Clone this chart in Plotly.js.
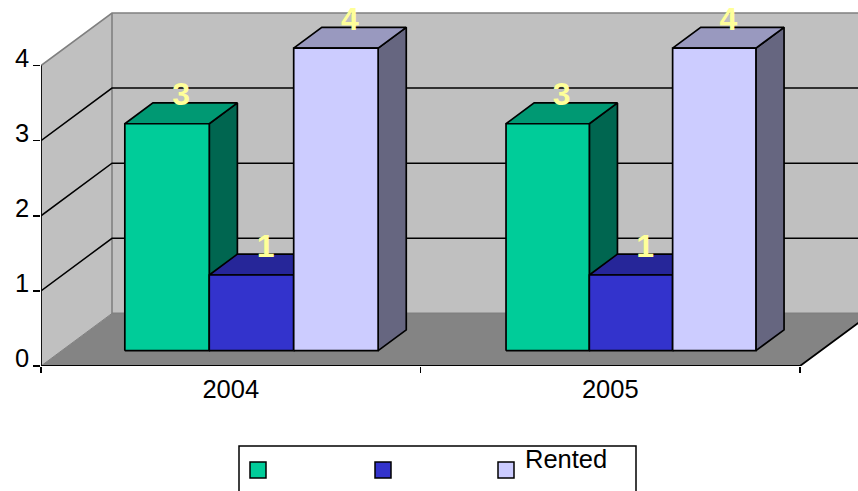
<!DOCTYPE html>
<html><head><meta charset="utf-8">
<script src="https://cdn.plot.ly/plotly-3.0.1.min.js"></script>
<style>html,body{margin:0;padding:0;background:#fff;overflow:hidden}#c{width:858px;height:491px}</style>
</head><body><div id="c"></div>
<script>
const categories = ['2004', '2005'];
const seriesGreen = [3, 3];
const seriesBlue = [1, 1];
const seriesRented = [4, 4];
const legendNames = ['', '', 'Rented'];
const valueTicks = [0, 1, 2, 3, 4];

const W = 858, H = 491, ML = 41, MB = 125;
const unitX = 379.5, unitY = 75.1;
const DX = 71 / unitX, DY = 52.6 / unitY;
const dFront = 0.292, dBack = 0.688, barWidths = [0.2225, 0.2195], barScale = 1.007;
const FONT = 'Liberation Sans, Arial, sans-serif';
const palette = [
  {front:'#00CC99', top:'#009973', side:'#006650'},
  {front:'#3333CC', top:'#262699', side:'#1F1F80'},
  {front:'#CCCCFF', top:'#9999BF', side:'#666680'}
];
const series = [seriesGreen, seriesBlue, seriesRented];

const P = (x, y, d) => [x + d * DX, y + d * DY];
function poly(pts, fill, lineColor, lineW) {
  const xs = pts.map(p => p[0]), ys = pts.map(p => p[1]);
  xs.push(xs[0]); ys.push(ys[0]);
  return {x: xs, y: ys, type: 'scatter', mode: 'lines', fill: 'toself', fillcolor: fill,
    line: {color: lineColor || 'rgba(0,0,0,0)', width: lineW === undefined ? 0 : lineW},
    hoverinfo: 'skip', showlegend: false, cliponaxis: false};
}
function line(pts, color, w) {
  return {x: pts.map(p => p[0]), y: pts.map(p => p[1]), type: 'scatter', mode: 'lines',
    line: {color: color, width: w}, hoverinfo: 'skip', showlegend: false, cliponaxis: false};
}

const traces = [];
const nCat = categories.length, topV = valueTicks[valueTicks.length - 1];
// walls and floor
traces.push(poly([P(0,0,0),P(0,topV,0),P(0,topV,1),P(0,0,1)], '#C0C0C0'));
traces.push(poly([P(0,0,1),P(0,topV,1),P(nCat,topV,1),P(nCat,0,1)], '#C0C0C0'));
traces.push(poly([P(0,0,0),P(nCat,0,0),P(nCat,0,1),P(0,0,1)], '#848484'));
// wall edges
traces.push(line([P(0,topV,0),P(0,topV,1),P(nCat,topV,1)], '#808080', 1.6));
traces.push(line([P(0,topV,1),P(0,0,1),P(nCat,0,1)], '#808080', 1.6));
traces.push(line([P(0,0,0),P(0,0,1)], '#808080', 1));
// gridlines
valueTicks.slice(1, -1).forEach(v => {
  traces.push(line([P(0,v,0),P(0,v,1),P(nCat,v,1)], '#000', 1.5));
});
// axis lines
traces.push(line([P(0,0,0),P(0,topV,0)], '#000', 1.8));
traces.push(line([P(nCat,0,1),P(nCat,0,0),P(0,0,0)], '#000', 1.8));
// bars
const labX = [], labY = [], labT = [];
categories.forEach((c, i) => {
  const barW = barWidths[i];
  series.forEach((s, k) => {
    const v = s[i] * barScale, x0 = i + 0.5 - 1.5 * barW + k * barW, x1 = x0 + barW, col = palette[k];
    traces.push(poly([P(x1,0,dFront),P(x1,0,dBack),P(x1,v,dBack),P(x1,v,dFront)], col.side, '#000', 1.7));
    traces.push(poly([P(x0,v,dFront),P(x1,v,dFront),P(x1,v,dBack),P(x0,v,dBack)], col.top, '#000', 1.7));
    traces.push(poly([P(x0,0,dFront),P(x1,0,dFront),P(x1,v,dFront),P(x0,v,dFront)], col.front, '#000', 1.7));
    const q = P((x0 + x1) / 2, v, dBack);
    labX.push((x0 + x1) / 2 + (dFront + dBack) / 2 * DX); labY.push(q[1] + 0.075); labT.push(String(s[i]));
  });
});
traces.push({x: labX, y: labY, text: labT, type: 'scatter', mode: 'text', textposition: 'middle center',
  textfont: {family: FONT, size: 32, color: '#FFFF99', weight: 700}, hoverinfo: 'skip', showlegend: false, cliponaxis: false});

// legend in page pixels
const px = x => (x - ML) / (W - ML);
const py = y => (H - MB - y) / (H - MB);
const shapes = [{type:'rect', xref:'paper', yref:'paper', x0:px(239), x1:px(636), y0:py(446), y1:py(500),
  line:{color:'#000', width:1.5}, fillcolor:'#fff', layer:'above'}];
[250, 375, 498].forEach((x, k) => shapes.push({type:'rect', xref:'paper', yref:'paper',
  x0:px(x), x1:px(x + 16), y0:py(462), y1:py(478), fillcolor:palette[k].front, line:{color:'#000', width:1.5}, layer:'above'}));
const annotations = [{xref:'paper', yref:'paper', x:px(523.5), y:py(468), xanchor:'left', yanchor:'bottom', yshift:-6,
  text:legendNames[2], showarrow:false, font:{family:FONT, size:25.5, color:'#000'}, borderpad:0}];
// value labels sit above their ticks, as in the reference
valueTicks.forEach(v => annotations.push({xref:'paper', yref:'y', x:px(30), y:v, yshift:8, xanchor:'right', yanchor:'middle',
  text:String(v), showarrow:false, font:{family:FONT, size:25.5, color:'#000'}, borderpad:0}));

const layout = {
  width: W, height: H, margin: {l: ML, r: 0, t: 0, b: MB}, paper_bgcolor: '#fff', plot_bgcolor: 'rgba(0,0,0,0)',
  showlegend: false, shapes, annotations,
  xaxis: {range: [0, (W - ML) / unitX], tickmode: 'array', tickvals: categories.map((c, i) => i + 0.5), ticktext: categories,
    ticks: '', ticklen: 0, showgrid: false, zeroline: false, showline: false, ticklabelstandoff: 5,
    tickfont: {family: FONT, size: 25.5, color: '#000'},
    minor: {tickmode: 'array', tickvals: categories.map((c, i) => i).concat([nCat]), ticks: 'outside', ticklen: 6, tickwidth: 1.5, tickcolor: '#000', showgrid: false}},
  yaxis: {range: [0, (H - MB) / unitY], tickmode: 'array', tickvals: valueTicks, showticklabels: false,
    ticks: 'outside', ticklen: 7, tickwidth: 1.5, tickcolor: '#000', showgrid: false, zeroline: false, showline: false}
};
Plotly.newPlot('c', traces, layout, {displayModeBar: false, staticPlot: true});
</script></body></html>
